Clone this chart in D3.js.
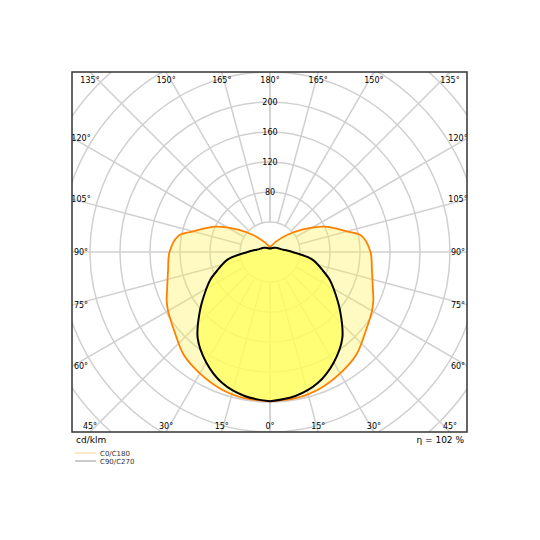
<!DOCTYPE html><html><head><meta charset="utf-8">
<script src="https://d3js.org/d3.v7.min.js"></script>
<style>body{margin:0;background:#fff}</style></head><body>
<script>
const angles = [0,10,20,30,40,50,60,65,70,80,90,100,105,115,125,135,150,165,180];
const c0c180 = [199,198,194,187,179,166,157,152,146,138,134,124,106,80,52,32,16,9,6];
const c90c270 = [199,195,186,170,150,122,98,88,76,57,30,18,15,12,10,8,6,5,5];
const rTicks = [40,80,120,160,200,240,280,320,360];
const rLabels = [80,120,160,200];
const angleTicks = d3.range(0,181,15);
const unitLabel = "cd/klm", etaLabel = "η = 102 %";
const seriesNames = ["C0/C180","C90/C270"];

const W=540,H=540, L=72,R=467,T=72,B=432, cx=270, cy=252;
const r = d3.scaleLinear().domain([0,40]).range([0,30]);
const svg=d3.select("body").append("svg").attr("width",W).attr("height",H).style("font-family","DejaVu Sans");
svg.append("clipPath").attr("id","c").append("rect").attr("x",L).attr("y",T).attr("width",R-L).attr("height",B-T);
const g=svg.append("g").attr("clip-path","url(#c)");
g.selectAll("circle.grid").data(rTicks).join("circle").attr("cx",cx).attr("cy",cy).attr("r",d=>r(d))
 .attr("fill","none").attr("stroke","#d0d0d0").attr("stroke-width",1.5);
function pt(gam,val,side){const a=gam*Math.PI/180;return [cx+side*r(val)*Math.sin(a), cy+r(val)*Math.cos(a)];}
angleTicks.forEach(a=>[1,-1].forEach(s=>{const p0=pt(a,40,s),p1=pt(a,600,s);
 g.append("line").attr("x1",p0[0]).attr("y1",p0[1]).attr("x2",p1[0]).attr("y2",p1[1]).attr("stroke","#d0d0d0").attr("stroke-width",1.5);}));
function pathFor(vals){const pts=[];angles.forEach((a,i)=>pts.push(pt(a,vals[i],-1)));
 for(let i=angles.length-1;i>=0;i--)pts.push(pt(angles[i],vals[i],1));
 return d3.line().curve(d3.curveCatmullRomClosed)(pts);}
g.append("path").attr("d",pathFor(c0c180)).attr("fill","rgba(255,240,80,0.35)").attr("stroke","#ff8000").attr("stroke-width",1.8);
g.append("path").attr("d",pathFor(c90c270)).attr("fill","rgba(255,255,90,0.75)").attr("stroke","#000").attr("stroke-width",2);
svg.selectAll("text.rl").data(rLabels).join("text").attr("x",cx).attr("y",d=>cy-r(d)+3).attr("text-anchor","middle")
 .attr("font-size",8).text(d=>d);
// angle labels at frame edges
angleTicks.forEach(a=>[1,-1].forEach(s=>{if(a===0&&s===-1)return;if(a===180&&s===-1)return;
 const rad=a*Math.PI/180, dx=s*Math.sin(rad), dy=Math.cos(rad);
 let t=1e9; if(dx>1e-6)t=Math.min(t,(R-cx)/dx); if(dx<-1e-6)t=Math.min(t,(L-cx)/dx);
 if(dy>1e-6)t=Math.min(t,(B-cy)/dy); if(dy<-1e-6)t=Math.min(t,(T-cy)/dy);
 let x=cx+dx*t,y=cy+dy*t; x=Math.max(L+9,Math.min(R-9,x)); y=Math.max(T+8,Math.min(B-6,y));
 svg.append("text").attr("x",x).attr("y",y+3).attr("text-anchor","middle").attr("font-size",8).text(a+"°");}));
svg.append("rect").attr("x",L).attr("y",T).attr("width",R-L).attr("height",B-T).attr("fill","none").attr("stroke","#333").attr("stroke-width",1.5);
svg.append("text").attr("x",76).attr("y",443).attr("font-size",9).text(unitLabel);
svg.append("text").attr("x",464).attr("y",443).attr("text-anchor","end").attr("font-size",9).text(etaLabel);
const lc=["#ffd090","#999"];
seriesNames.forEach((n,i)=>{svg.append("line").attr("x1",75).attr("x2",96).attr("y1",453+i*8).attr("y2",453+i*8).attr("stroke",lc[i]);
 svg.append("text").attr("x",100).attr("y",456+i*8).attr("font-size",7).attr("fill","#333").text(n);});
</script></body></html>
